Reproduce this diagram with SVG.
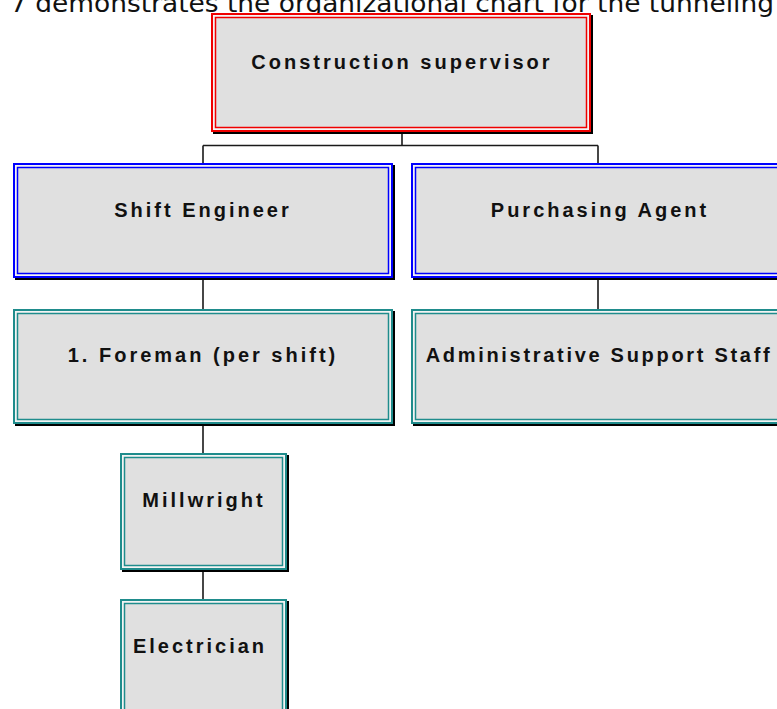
<svg xmlns="http://www.w3.org/2000/svg" width="777" height="709" viewBox="0 0 777 709">
<style>
.sh{fill:#000}
.o{fill:#f4f4f4;stroke-width:2}
.i{fill:#e0e0e0;stroke-width:1.5}
.red{stroke:#f00000}
.blue{stroke:#0000ff}
.teal{stroke:#1f8c8c}
.lbl{font-family:"Liberation Sans",Arial,sans-serif;font-weight:bold;font-size:20px;letter-spacing:3px;fill:#111;text-anchor:middle}
.cap{font-family:"DejaVu Sans","Liberation Sans",sans-serif;font-size:25px;fill:#111}
.c{fill:none;stroke:#1a1a1a;stroke-width:1.6}
</style>
<rect width="777" height="709" fill="#fff"/>
<text class="cap" x="10" y="12" textLength="764" lengthAdjust="spacingAndGlyphs">7 demonstrates the organizational chart for the tunneling</text>
<g id="connectors">
<path class="c" d="M402 132V145.5M203 145.5H598M203 145.5V163M598 145.5V163M203 278V309M598 278V309M203 424V453M203 570V599"/>
</g>
<g id="construction-supervisor">
<rect class="sh" x="213" y="15" width="380" height="119"/>
<rect class="o red" x="212" y="14" width="378" height="117"/>
<rect class="i red" x="215.5" y="17.5" width="371" height="110"/>
<text class="lbl" x="402" y="69">Construction supervisor</text>
</g>
<g id="shift-engineer">
<rect class="sh" x="15" y="165" width="380" height="115"/>
<rect class="o blue" x="14" y="164" width="378" height="113"/>
<rect class="i blue" x="17.5" y="167.5" width="371" height="106"/>
<text class="lbl" x="203" y="217">Shift Engineer</text>
</g>
<g id="purchasing-agent">
<rect class="sh" x="413" y="165" width="380" height="115"/>
<rect class="o blue" x="412" y="164" width="378" height="113"/>
<rect class="i blue" x="415.5" y="167.5" width="371" height="106"/>
<text class="lbl" x="600" y="217">Purchasing Agent</text>
</g>
<g id="foreman">
<rect class="sh" x="15" y="311" width="380" height="115"/>
<rect class="o teal" x="14" y="310" width="378" height="113"/>
<rect class="i teal" x="17.5" y="313.5" width="371" height="106"/>
<text class="lbl" x="203" y="362">1.  Foreman (per shift)</text>
</g>
<g id="admin-support">
<rect class="sh" x="413" y="311" width="380" height="115"/>
<rect class="o teal" x="412" y="310" width="378" height="113"/>
<rect class="i teal" x="415.5" y="313.5" width="371" height="106"/>
<text class="lbl" x="599" y="362" style="letter-spacing:2.7px">Administrative Support Staff</text>
</g>
<g id="millwright">
<rect class="sh" x="122" y="455" width="167" height="117"/>
<rect class="o teal" x="121" y="454" width="165" height="115"/>
<rect class="i teal" x="124.5" y="457.5" width="158" height="108"/>
<text class="lbl" x="204" y="507">Millwright</text>
</g>
<g id="electrician">
<rect class="sh" x="122" y="601" width="167" height="130"/>
<rect class="o teal" x="121" y="600" width="165" height="128"/>
<rect class="i teal" x="124.5" y="603.5" width="158" height="121"/>
<text class="lbl" x="200" y="653">Electrician</text>
</g>
</svg>
